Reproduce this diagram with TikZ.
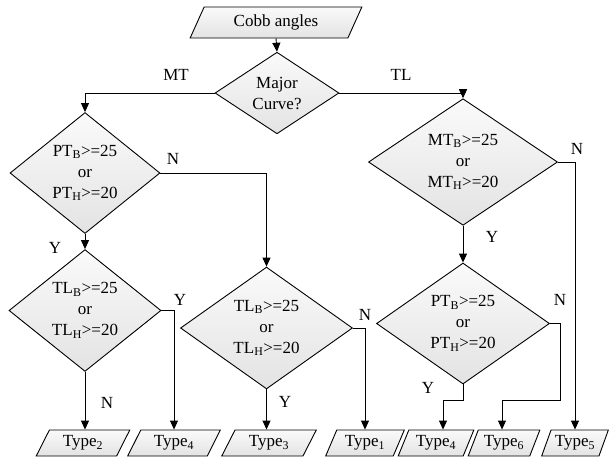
\documentclass[tikz,border=0pt]{standalone}
\usepackage{fontspec}
\setmainfont{Liberation Serif}
\usetikzlibrary{shapes.geometric,arrows.meta}
\begin{document}
\begin{tikzpicture}[x=1pt,y=-1pt,
  font=\fontsize{17}{21}\selectfont,
  line width=0.9pt,
  boxfill/.style={top color=gray!4,bottom color=gray!22,draw=black},
  dec/.style={boxfill,diamond,inner sep=0pt,align=center},
  io/.style={boxfill,trapezium,trapezium left angle=62,trapezium right angle=118,
    trapezium stretches=true,inner sep=0pt,minimum height=#1},
  io/.default=26pt,
  arr/.style={-{Triangle[length=9pt,width=8pt]}},
  lbl/.style={inner sep=0pt}]
\useasboundingbox (0,0) rectangle (609,459);
% nodes
\node[io=31pt,minimum width=172pt] (cobb) at (276,22.5) {Cobb angles};
\node[dec,minimum width=124pt,minimum height=66pt] (major) at (277,93) {Major\\Curve?};
\node[dec,minimum width=150pt,minimum height=108pt] (ptL) at (85,173) {PT\textsubscript{B}>=25\\or\\PT\textsubscript{H}>=20};
\node[dec,minimum width=189pt,minimum height=104pt] (mtR) at (463,162) {MT\textsubscript{B}>=25\\or\\MT\textsubscript{H}>=20};
\node[dec,minimum width=152pt,minimum height=105pt] (tlL) at (85,310.5) {TL\textsubscript{B}>=25\\or\\TL\textsubscript{H}>=20};
\node[dec,minimum width=172pt,minimum height=106pt] (tlM) at (266.5,328) {TL\textsubscript{B}>=25\\or\\TL\textsubscript{H}>=20};
\node[dec,minimum width=173pt,minimum height=107pt] (ptR) at (463,323.5) {PT\textsubscript{B}>=25\\or\\PT\textsubscript{H}>=20};
% bottom row
\node[io,minimum width=94pt] (t2) at (83,443) {Type\textsubscript{2}};
\node[io,minimum width=93pt] (t4a) at (174,443) {Type\textsubscript{4}};
\node[io,minimum width=95pt] (t3) at (269,443) {Type\textsubscript{3}};
\node[io,minimum width=79pt] (t1) at (365,443) {Type\textsubscript{1}};
\node[io,minimum width=76pt] (t4b) at (436,443) {Type\textsubscript{4}};
\node[io,minimum width=72pt] (t6) at (504,443) {Type\textsubscript{6}};
\node[io,minimum width=67pt] (t5) at (575,443) {Type\textsubscript{5}};
% helper coordinates
\coordinate (e4) at (443,400);
\coordinate (n6) at (560,400);
\coordinate (e6) at (502,400);
% connectors
\draw[arr] (cobb.south) -- (major.north);
\draw[arr] (major.west) -| (ptL.north);
\draw[arr] (major.east) -| (mtR.north);
\draw[arr] (ptL.east) -| (tlM.north);
\draw[arr] (ptL.south) -- (tlL.north);
\draw[arr] (tlL.south) -- (tlL.south |- t2.north);
\draw[arr] (tlL.east) -| (t4a.north);
\draw[arr] (tlM.south) -- (tlM.south |- t3.north);
\draw[arr] (tlM.east) -| (t1.north);
\draw[arr] (mtR.south) -- (ptR.north);
\draw[arr] (mtR.east) -| (t5.north);
\draw[arr] (ptR.south) |- (e4) -- (e4 |- t4b.north);
\draw[arr] (ptR.east) -| (n6) -| (e6 |- t6.north);
% labels
\node[lbl] (lmt) at (176,75) {MT};
\node[lbl] (ltl) at (401,75) {TL};
\node[lbl] (l1) at (173,159) {N};
\node[lbl] (l2) at (55,248) {Y};
\node[lbl] (l3) at (577,149) {N};
\node[lbl] (l4) at (492,237) {Y};
\node[lbl] (l5) at (107,403) {N};
\node[lbl] (l6) at (180,300) {Y};
\node[lbl] (l7) at (285,402) {Y};
\node[lbl] (l8) at (365,315) {N};
\node[lbl] (l9) at (560,300) {N};
\node[lbl] (l10) at (428,388) {Y};
\end{tikzpicture}
\end{document}
